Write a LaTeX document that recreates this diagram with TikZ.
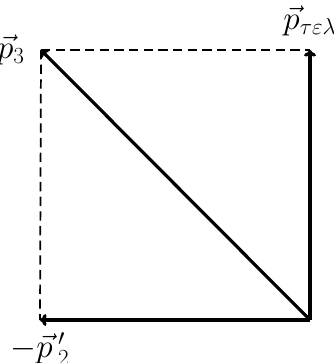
\documentclass[tikz,border=0pt]{standalone}
\usetikzlibrary{arrows.meta}
\begin{document}
\begin{tikzpicture}[x=0.75pt,y=-0.75pt,
  vec/.style={line width=2.4pt,-{To[length=5pt,width=9pt]}},
  guide/.style={line width=1.3pt,dash pattern=on 7pt off 4pt},
  lbl/.style={inner sep=0pt,font=\fontsize{24.5}{29}\selectfont}]
\useasboundingbox (0,0) rectangle (334,363);
\coordinate (O) at (310,320);
\coordinate (A) at (310,50);
\coordinate (B) at (41,50);
\coordinate (C) at (40,320);
\draw[guide] (B) -- (A);
\draw[guide] (B) -- (C);
\draw[vec] (O) -- (A);
\draw[vec] (O) -- (B);
\draw[vec] (O) -- (C);
\node[lbl,anchor=east] (lb) at ([xshift=-12pt]B) {$\vec p_3$};
\node[lbl,anchor=south] (la) at ([yshift=10pt]A) {$\vec p_{\tau\varepsilon\lambda}$};
\node[lbl,anchor=north] (lc) at ([yshift=-9pt]C) {$-\vec p\,'_2$};
\end{tikzpicture}
\end{document}
